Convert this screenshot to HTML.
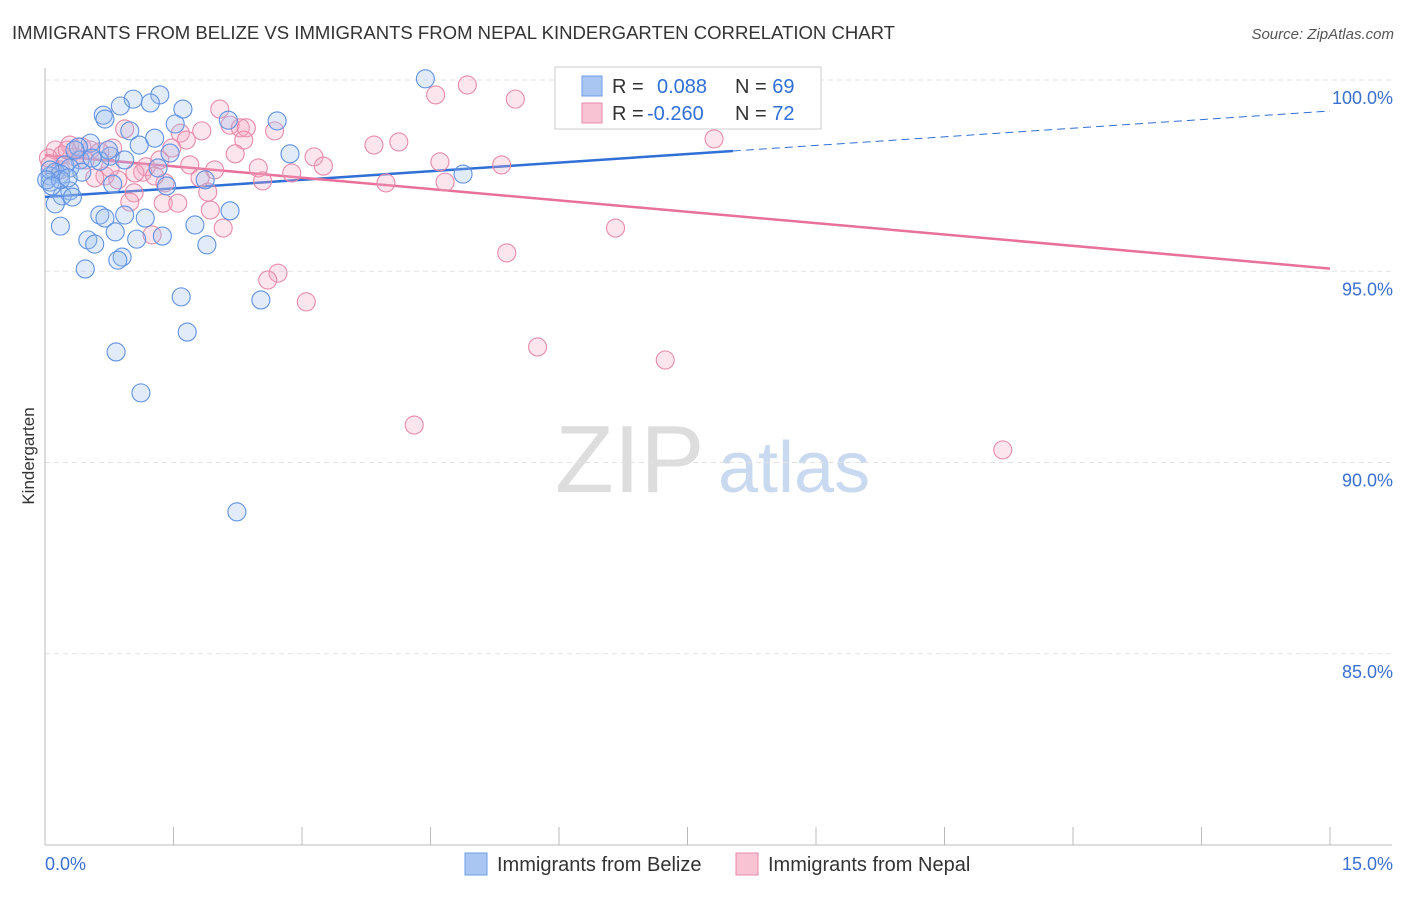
<!DOCTYPE html>
<html><head><meta charset="utf-8"><style>
body{margin:0;background:#fff;font-family:"Liberation Sans",sans-serif;}
svg text{font-family:"Liberation Sans",sans-serif;}
</style></head><body>
<svg id="chart" width="1406" height="892">
<text x="12" y="39" font-size="18" fill="#333" textLength="883" lengthAdjust="spacingAndGlyphs">IMMIGRANTS FROM BELIZE VS IMMIGRANTS FROM NEPAL KINDERGARTEN CORRELATION CHART</text>
<text x="1394" y="39" font-size="15" fill="#555" font-style="italic" text-anchor="end">Source: ZipAtlas.com</text>
<text x="34" y="456" font-size="17" fill="#333" transform="rotate(-90 34 456)" text-anchor="middle">Kindergarten</text>
<text x="555" y="492" font-size="96" fill="#ddd" font-family="Liberation Serif">ZIP</text>
<text x="718" y="492" font-size="72" fill="#c9d9f0">atlas</text>
<g id="grid"></g><g id="axes"></g><g id="trend"></g><g id="pts"></g>
<g>
<rect x="555" y="67" width="266" height="62" fill="#fff" stroke="#ccc"/>
<rect x="582" y="76" width="20" height="20" fill="#a9c5f2" stroke="#6f9ee8"/>
<rect x="582" y="103" width="20" height="20" fill="#f8c3d3" stroke="#e88aa8"/>
<text x="612" y="93" font-size="20" fill="#333">R = <tspan fill="#2f6fd6" x="657">0.088</tspan><tspan x="735">N = </tspan><tspan fill="#2f6fd6">69</tspan></text>
<text x="612" y="120" font-size="20" fill="#333">R = <tspan fill="#2f6fd6" x="647">-0.260</tspan><tspan x="735">N = </tspan><tspan fill="#2f6fd6">72</tspan></text>
</g>
<g>
<rect x="465" y="853" width="22" height="22" fill="#a9c5f2" stroke="#6f9ee8"/>
<text x="497" y="871" font-size="20" fill="#333">Immigrants from Belize</text>
<rect x="736" y="853" width="22" height="22" fill="#f8c3d3" stroke="#e88aa8"/>
<text x="768" y="871" font-size="20" fill="#333">Immigrants from Nepal</text>
</g>
</svg>
<script>
const blueX=[4.44,6.48,1.34,1.03,1.23,0.88,1.61,0.68,0.70,2.71,2.14,1.52,0.99,1.28,0.53,0.39,1.10,1.46,2.86,0.76,0.93,0.64,0.41,0.23,0.29,0.12,0.06,0.18,0.43,1.32,4.88,0.06,0.79,1.42,1.87,0.29,0.20,0.12,0.32,0.64,0.93,0.70,1.17,2.16,0.18,1.75,0.82,1.07,1.37,0.50,0.58,1.89,0.90,0.85,0.47,1.59,2.52,1.66,0.83,1.12,2.24,0.06,0.02,0.18,0.35,0.55,0.74,0.27,0.08];
const blueY=[100.03,99.76,99.61,99.50,99.40,99.32,99.24,99.08,98.98,98.93,98.95,98.85,98.67,98.48,98.35,98.25,98.30,98.09,98.07,98.01,97.91,97.88,97.91,97.78,97.70,97.59,97.49,97.54,97.59,97.70,97.54,97.33,97.28,97.23,97.39,97.10,96.97,96.76,96.94,96.47,96.47,96.39,96.39,96.58,96.18,96.21,96.03,95.84,95.92,95.82,95.71,95.69,95.37,95.29,95.06,94.33,94.25,93.41,92.89,91.82,88.71,97.65,97.39,97.39,98.17,97.96,98.17,97.44,97.23];
const pinkX=[6.20,7.20,4.93,4.56,5.49,2.04,2.16,2.28,2.35,2.68,0.93,1.83,1.58,1.65,2.32,4.13,3.84,7.81,0.29,0.43,0.12,0.53,0.79,1.48,0.64,2.22,0.20,0.04,0.35,3.14,1.34,4.61,5.33,1.69,2.49,3.25,1.18,1.14,1.05,1.98,2.88,1.81,2.54,3.98,4.67,0.70,0.58,0.85,1.40,1.90,1.04,0.99,1.38,1.55,1.93,2.08,1.25,6.66,5.39,2.72,2.60,3.05,5.75,7.24,4.31,11.18,0.18,0.06,0.47,0.26,0.76,1.28];
const pinkY=[100,100,99.87,99.61,99.50,99.24,98.82,98.75,98.75,98.67,98.72,98.67,98.61,98.43,98.43,98.38,98.30,98.46,98.30,98.25,98.17,98.17,98.22,98.22,98.12,98.07,98.04,97.96,97.99,97.99,97.91,97.86,97.78,97.78,97.70,97.75,97.73,97.59,97.57,97.65,97.57,97.44,97.36,97.31,97.33,97.49,97.44,97.39,97.31,97.07,97.05,96.81,96.78,96.78,96.60,96.13,95.95,96.13,95.48,94.95,94.77,94.20,93.02,92.68,90.98,90.33,97.65,97.78,97.91,98.17,97.70,97.49];
const blueTrend=[96.94,99.19]; // at x=0 and x=15
const blueSolidEnd=8.03;
const pinkTrend=[98.04,95.07];
const yTicks=[100,95,90,85];
const yTickLabels=["100.0%","95.0%","90.0%","85.0%"];
const xTicks=[0,1.5,3,4.5,6,7.5,9,10.5,12,13.5,15];
const NS="http://www.w3.org/2000/svg";
const sx=v=>45+v*1285/15, sy=v=>80+(100-v)*38.25;
function mk(t,a,p){const e=document.createElementNS(NS,t);for(const k in a)e.setAttribute(k,a[k]);p.appendChild(e);return e;}
const grid=document.getElementById('grid'),axes=document.getElementById('axes'),trend=document.getElementById('trend'),pts=document.getElementById('pts');
yTicks.forEach((v,i)=>{
 const l=mk('line',{x1:45,x2:1392,y1:sy(v),y2:sy(v),stroke:'#e2e2e2','stroke-dasharray':'5,4'},grid);
 
 
 const t=mk('text',{x:1393,y:sy(v)+24,'font-size':18,fill:'#3a70d0','text-anchor':'end'},axes);
 t.textContent=yTickLabels[i];
 
 
});
const ya=mk('line',{x1:45,x2:45,y1:68,y2:845,stroke:'#bbb'},axes);


const xa=mk('line',{x1:45,x2:1392,y1:845,y2:845,stroke:'#bbb'},axes);


xTicks.forEach(v=>{
 const t=mk('line',{x1:sx(v),x2:sx(v),y1:827,y2:845,stroke:'#bbb'},axes);
 
 
});
const xl0=mk('text',{x:45,y:870,'font-size':18,fill:'#3a70d0'},axes);xl0.textContent='0.0%';


const xl1=mk('text',{x:1393,y:870,'font-size':18,fill:'#3a70d0','text-anchor':'end'},axes);xl1.textContent='15.0%';


function pt(x,y,fill,stroke,name){const c=mk('circle',{cx:sx(x),cy:sy(y),r:9,fill:fill,'fill-opacity':0.3,stroke:stroke,'stroke-width':1.1},pts);
 
 }
pinkX.forEach((x,i)=>pt(x,pinkY[i],'#f5a9c2','#e88aa8','nepal-point'));
blueX.forEach((x,i)=>pt(x,blueY[i],'#9dbcf0','#5f92e3','belize-point'));
const bAt=x=>blueTrend[0]+(blueTrend[1]-blueTrend[0])*x/15;
const b1=mk('line',{x1:sx(0),y1:sy(bAt(0)),x2:sx(blueSolidEnd),y2:sy(bAt(blueSolidEnd)),stroke:'#2f6fd6','stroke-width':2.5},trend);


const b2=mk('line',{x1:sx(blueSolidEnd),y1:sy(bAt(blueSolidEnd)),x2:sx(15),y2:sy(bAt(15)),stroke:'#2f6fd6','stroke-width':1,'stroke-dasharray':'8,5'},trend);


const p1=mk('line',{x1:sx(0),y1:sy(pinkTrend[0]),x2:sx(15),y2:sy(pinkTrend[1]),stroke:'#e8709a','stroke-width':2.5},trend);


</script>
</body></html>
